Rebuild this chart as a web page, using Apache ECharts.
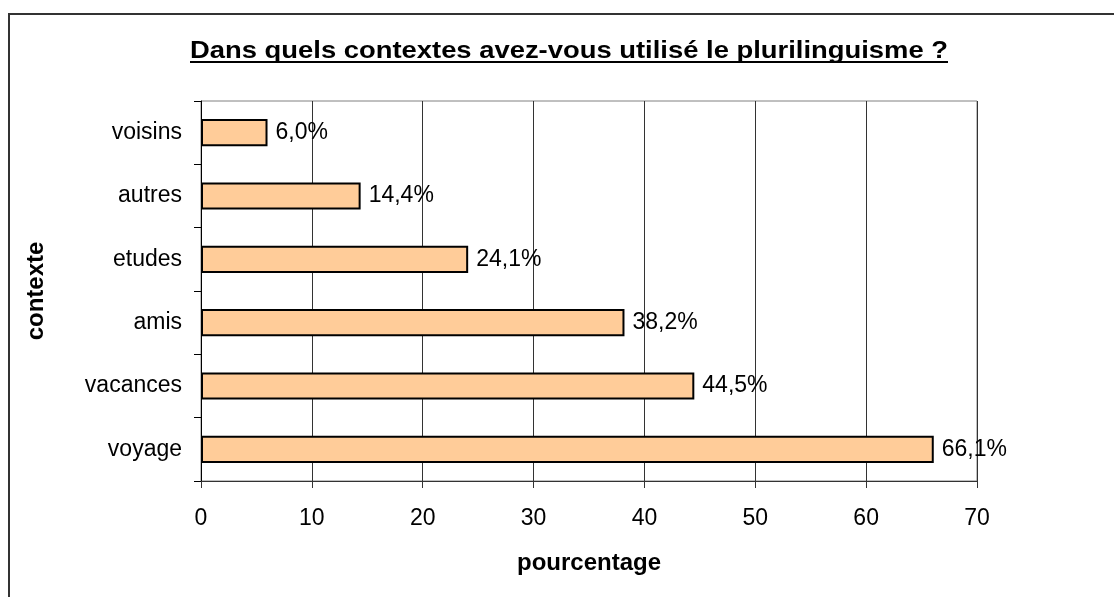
<!DOCTYPE html>
<html>
<head>
<meta charset="utf-8">
<script src="https://cdn.jsdelivr.net/npm/echarts@6/dist/echarts.min.js"></script>
<style>
html,body{margin:0;padding:0;background:#fff;}
#chart{width:1114px;height:597px;}
</style>
</head>
<body>
<div id="chart"></div>
<script>
const titleText = 'Dans quels contextes avez-vous utilisé le plurilinguisme ?';
const categories = ['voyage', 'vacances', 'amis', 'etudes', 'autres', 'voisins'];
const values = [66.1, 44.5, 38.2, 24.1, 14.4, 6.0];
const xTicks = [0, 10, 20, 30, 40, 50, 60, 70];
const xName = 'pourcentage';
const yName = 'contexte';

const FONT = '"Liberation Sans", Arial, Helvetica, sans-serif';
const TITLE_FONT = 'bold 24px ' + FONT;
const TITLE_X = 569, TITLE_W = 758;
const cv = document.createElement('canvas').getContext('2d');
cv.font = TITLE_FONT;
const titleScale = TITLE_W / cv.measureText(titleText).width;

const chart = echarts.init(document.getElementById('chart'), null, {renderer: 'canvas'});
chart.setOption({
  backgroundColor: '#fff',
  animation: false,
  graphic: [
    {type: 'rect', shape: {x: 9, y: 14, width: 1200, height: 700},
     style: {fill: 'none', stroke: '#333', lineWidth: 2}, z: 100},
    {type: 'text', x: TITLE_X, y: 63, originX: 0, originY: 0, scaleX: titleScale,
     style: {text: titleText, font: TITLE_FONT, fill: '#000',
             textAlign: 'center', textVerticalAlign: 'bottom'}, z: 100},
    {type: 'line', shape: {x1: TITLE_X - TITLE_W / 2, y1: 62, x2: TITLE_X + TITLE_W / 2, y2: 62},
     style: {stroke: '#000', lineWidth: 2}, z: 101}
  ],
  grid: {left: 201, right: 137, top: 101, bottom: 116, show: true,
         borderColor: '#808080', borderWidth: 1, backgroundColor: 'transparent'},
  xAxis: {
    type: 'value', min: xTicks[0], max: xTicks[xTicks.length - 1], interval: 10,
    name: xName, nameLocation: 'middle', nameGap: 70,
    nameTextStyle: {fontFamily: FONT, fontSize: 24, fontWeight: 'bold', color: '#000'},
    axisLine: {show: true, lineStyle: {color: '#333', width: 1}},
    axisTick: {show: true, length: 7, lineStyle: {color: '#333'}},
    axisLabel: {fontFamily: FONT, fontSize: 23, color: '#000', margin: 26},
    splitLine: {show: true, lineStyle: {color: '#333', width: 1}}
  },
  yAxis: {
    type: 'category', data: categories,
    name: yName, nameLocation: 'middle', nameGap: 153, nameRotate: 90,
    nameTextStyle: {fontFamily: FONT, fontSize: 24, fontWeight: 'bold', color: '#000'},
    axisLine: {show: true, lineStyle: {color: '#000', width: 1}},
    axisTick: {show: true, length: 7, lineStyle: {color: '#000'}},
    axisLabel: {fontFamily: FONT, fontSize: 23, color: '#000', margin: 19},
    splitLine: {show: false}
  },
  series: [{
    type: 'bar', data: values, barWidth: '43%',
    itemStyle: {color: '#FFCC99', borderColor: '#000', borderWidth: 2},
    label: {show: true, position: 'right', distance: 8,
      fontFamily: FONT, fontSize: 23, color: '#000',
      formatter: p => p.value.toFixed(1).replace('.', ',') + '%'}
  }]
});
</script>
</body>
</html>
